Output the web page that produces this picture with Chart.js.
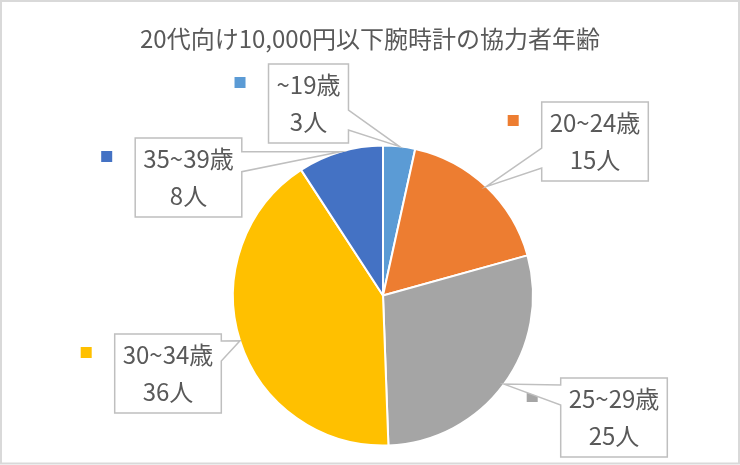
<!DOCTYPE html>
<html lang="ja">
<head>
<meta charset="utf-8">
<script src="https://cdn.jsdelivr.net/npm/chart.js@4"></script>
<style>
  html, body { margin: 0; padding: 0; background: #fff; }
  #wrap { width: 740px; height: 465px; }
</style>
</head>
<body>
<div id="wrap"><canvas id="graficoIdade"></canvas></div>
<script>
// dados do gráfico
const tituloTexto = "20代向け10,000円以下腕時計の協力者年齢";
const faixas = ["~19歳", "20~24歳", "25~29歳", "30~34歳", "35~39歳"];
const pessoas = [3, 15, 25, 36, 8];
const unidade = "人";

// estilos
const cores = ["#5B9BD5", "#ED7D31", "#A5A5A5", "#FFC000", "#4472C4"];
const fonte = "'Noto Sans CJK JP', 'Noto Sans', sans-serif";
// posição das caixas de rótulo (centro x, topo)
const caixas = [[308.5, 64], [595, 102], [614, 378], [168, 334], [188.5, 138]];

const moldura = {
    id: "moldura",
    beforeDraw(chart){
        const c = chart.ctx;
        c.save();
        c.fillStyle = "#fff";
        c.fillRect(0, 0, chart.width, chart.height);
        c.strokeStyle = "#D9D9D9";
        c.lineWidth = 2;
        c.strokeRect(1, 1, chart.width - 2, chart.height - 2.5);
        c.restore();
    },
    afterLayout(chart){
        // título centralizado na largura toda
        if(chart.titleBlock){
            chart.titleBlock.left = 0;
            chart.titleBlock.right = chart.width;
        }
    }
};

// rótulos com balão (callout) como no Excel
const baloes = {
    id: "baloes",
    afterDatasetsDraw(chart){
        const c = chart.ctx;
        const arcos = chart.getDatasetMeta(0).data;
        c.save();
        c.font = "24px " + fonte;
        c.textAlign = "center";
        c.textBaseline = "alphabetic";

        // quadradinhos da legenda primeiro
        arcos.forEach((arco, i)=>{
            const linhas = [faixas[i], pessoas[i] + unidade];
            const w = Math.max(...linhas.map(t=>c.measureText(t).width)) + 16;
            const esq = caixas[i][0] - w / 2;
            c.fillStyle = cores[i];
            c.fillRect(esq - 34, caixas[i][1] + 13, 11, 11);
        });

        arcos.forEach((arco, i)=>{
            const p = arco.getProps(["x", "y", "startAngle", "endAngle", "outerRadius"], true);
            const meio = (p.startAngle + p.endAngle) / 2;
            const px = p.x + Math.cos(meio) * p.outerRadius;
            const py = p.y + Math.sin(meio) * p.outerRadius;

            const linhas = [faixas[i], pessoas[i] + unidade];
            const w = Math.max(...linhas.map(t=>c.measureText(t).width)) + 16;
            const h = 79;
            const esq = caixas[i][0] - w / 2, dir = esq + w;
            const topo = caixas[i][1], base = topo + h;
            const b1 = Math.min(Math.max(py, topo + 7), base - 33);
            const b2 = b1 + 20;

            c.beginPath();
            c.moveTo(esq, topo);
            c.lineTo(dir, topo);
            if(px > dir){
                c.lineTo(dir, b1); c.lineTo(px, py); c.lineTo(dir, b2);
            }
            c.lineTo(dir, base);
            c.lineTo(esq, base);
            if(px < esq){
                c.lineTo(esq, b2); c.lineTo(px, py); c.lineTo(esq, b1);
            }
            c.closePath();
            c.fillStyle = "#fff";
            c.fill();
            c.strokeStyle = "#BFBFBF";
            c.lineWidth = 1.5;
            c.stroke();

            c.fillStyle = "#595959";
            c.fillText(linhas[0], caixas[i][0], topo + 30);
            c.fillText(linhas[1], caixas[i][0], topo + 67);
        });
        c.restore();
    }
};

const ctx = document.getElementById("graficoIdade").getContext("2d");
const grafico = new Chart(ctx, {
    type: "pie",
    data: {
        labels: faixas,
        datasets: [{
            data: pessoas,
            backgroundColor: cores,
            borderColor: "#fff",
            borderWidth: 2,
            radius: 150
        }]
    },
    options: {
        responsive: true,
        maintainAspectRatio: false,
        animation: false,
        layout: { padding: { left: 233, right: 207, top: 0, bottom: 19.5 } },
        plugins: {
            legend: { display: false },
            tooltip: { enabled: false },
            title: {
                display: true,
                text: tituloTexto,
                color: "#595959",
                font: { family: fonte, size: 24, weight: "normal", lineHeight: 1.2 },
                padding: { top: 24, bottom: 92.7 }
            }
        }
    },
    plugins: [moldura, baloes]
});
</script>
</body>
</html>
